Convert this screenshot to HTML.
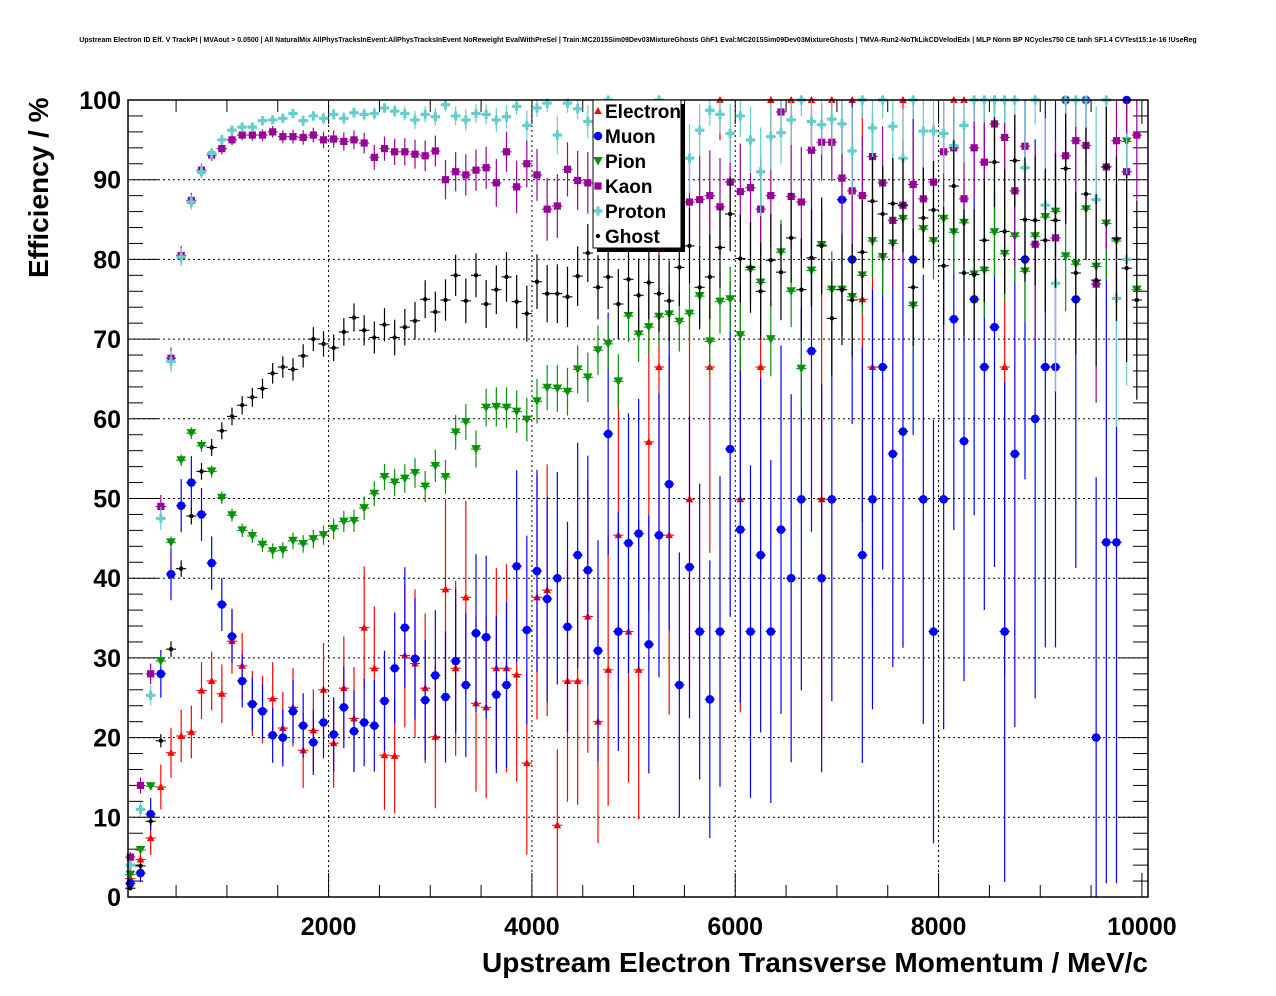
<!DOCTYPE html>
<html><head><meta charset="utf-8"><title>Upstream Electron ID Eff. V TrackPt</title>
<style>
html,body{margin:0;padding:0;background:#fff;}
svg{display:block;font-family:"Liberation Sans",Arial,sans-serif;}
</style></head>
<body>
<svg id="chart" width="1276" height="996" viewBox="0 0 1276 996" xmlns="http://www.w3.org/2000/svg">
<rect x="0" y="0" width="1276" height="996" fill="#fff"/>
<text x="638" y="42" font-size="7" font-weight="bold" text-anchor="middle">Upstream Electron ID Eff. V TrackPt | MVAout &gt; 0.0500 | All NaturalMix AllPhysTracksInEvent:AllPhysTracksInEvent NoReweight EvalWithPreSel | Train:MC2015Sim09Dev03MixtureGhosts GhF1 Eval:MC2015Sim09Dev03MixtureGhosts | TMVA-Run2-NoTkLikCDVelodEdx | MLP Norm BP NCycles750 CE tanh SF1.4 CVTest15:1e-16 !UseReg</text>
<g id="grid"></g>
<g id="axes"></g>
<g id="series"></g>
<rect x="128" y="100" width="1020" height="797" fill="none" stroke="#000" stroke-width="1.5"/>
<g id="legend"></g>
<text transform="translate(48,278) rotate(-90)" font-size="28" font-weight="bold" text-anchor="start">Efficiency / %</text>
<text x="1148" y="972" font-size="28" font-weight="bold" text-anchor="end">Upstream Electron Transverse Momentum / MeV/c</text>
</svg>
<script>
const binCenters = [];
for (let i = 0; i < 100; i++) binCenters.push(50 + 100 * i);
const xTicks = [2000, 4000, 6000, 8000, 10000];
const yTicks = [0, 10, 20, 30, 40, 50, 60, 70, 80, 90, 100];
const binCounts = [1500,1500,1500,1500,1500,1500,1500,1500,1450,1400,1300,1200,1100,1000,900,820,750,680,620,560,500,460,420,380,340,310,280,260,240,220,200,185,170,160,150,140,130,120,112,106,100,95,90,86,82,78,74,70,66,62,58,55,52,49,47,45,43,41,39,37,35,34,33,32,31,30,29,28,27,26,25,25,24,24,23,23,22,22,21,21,20,19,18,17,16,15,15,14,14,13,12,12,11,11,10,10,9,9,8,8];
const electronEff = [2.3,4.7,7.4,13.8,18.1,20.2,20.7,25.9,27.1,25.5,32.1,29.0,24.3,23.5,24.9,21.2,23.8,18.4,20.9,26.0,19.3,26.2,22.4,33.8,28.7,17.8,17.7,30.3,29.3,26.2,20.1,38.6,28.7,37.6,24.3,23.8,28.7,28.7,27.9,16.8,37.6,
 38.5,9.0,27.1,27.1,35.2,22.0,28.5,45.4,33.3,28.5,57.1,66.5,45.4,null,49.9,null,66.5,100,null,49.9,null,66.5,100,null,100,null,100,49.9,100,null,100,75,66.5,null,null,100,null,null,null,null,100,100,null,null,null,66.5,null,null,null,null,null,null,null,null,null,null,null,null,null];
const muonEff = [1.7,3.0,10.4,28.0,40.5,49.1,52.0,48.0,41.9,36.7,32.7,27.1,24.2,23.3,20.3,20.0,23.3,21.5,19.4,21.9,20.4,23.8,20.8,21.9,21.5,24.6,28.7,33.8,29.9,24.7,27.8,25.1,29.6,26.6,33.1,32.6,25.4,26.6,41.5,33.5,40.9,
 37.4,40.0,33.9,42.9,41.0,30.9,58.1,33.3,44.4,45.6,31.7,45.4,51.8,26.6,41.4,33.3,24.8,33.3,56.2,46.1,33.3,42.9,33.3,46.1,40.0,49.9,68.5,40.0,49.9,87.5,80,42.9,49.9,66.5,55.6,58.4,80,49.9,33.3,49.9,72.5,57.2,75,66.5,71.5,33.3,55.6,80,60.0,66.5,66.5,100,75,100,20,44.5,44.5,100,null];
const pionEff = [2.8,5.9,13.9,29.6,44.5,54.8,58.2,56.6,53.4,50.1,47.9,46.0,45.3,44.2,43.4,43.5,44.7,44.3,44.9,45.4,46.2,47.1,47.2,48.8,50.6,52.7,52.0,52.5,53.2,51.5,54.1,52.7,58.3,59.6,56.2,61.4,61.5,61.4,60.9,59.9,62.2,
 63.9,63.8,63.4,66.2,65.2,68.6,69.4,64.7,72.9,70.6,71.5,72.8,73.1,72.2,73.2,75.4,69.7,74.7,75.0,70.5,78.7,77.1,70.0,80.9,76.0,66.3,78.6,81.8,76.2,76.2,75.3,78.0,82.3,80.3,82.0,85.1,74.2,83.8,82.3,85.1,83.4,84.6,78.1,78.6,83.4,80.7,82.9,78.5,82.9,85.3,86.0,80.4,79.4,86.3,79.1,84.5,82.3,94.8,76.2];
const kaonEff = [5,14,28,49,67.6,80.5,87.4,91.2,93.1,93.9,95.0,95.6,95.6,95.6,96.0,95.4,95.4,95.3,95.6,95.0,95.1,94.8,95.0,94.6,92.8,93.9,93.5,93.5,93.2,93.0,93.6,90.0,91.0,90.6,91.2,91.5,89.6,93.5,89.1,92.0,
 90.6,86.3,86.7,91.3,89.9,89.6,88.5,89.0,90.5,88.0,89.5,87.5,88.5,87.0,88.0,87.2,87.5,88.0,86.6,89.7,88.5,89.0,86.3,88.0,98.5,87.9,87.2,93.7,94.7,94.7,90.2,88.6,88.0,92.9,89.6,84.9,86.8,89.4,87.6,89.7,93.5,94.0,87.6,94.0,92.2,97.0,95.3,88.6,94.2,81.9,null,82.7,93.0,94.9,94.3,76.9,91.6,94.9,91.0,95.6];
const protonEff = [4,11,25.3,47.5,67.2,80.3,87.2,91.0,93.3,95.0,96.2,96.6,96.6,97.4,97.5,97.7,98.3,97.4,98.0,97.7,98.2,97.7,98.4,98.2,98.3,99.0,98.6,98.3,97.5,98.2,97.9,99.4,98.0,97.5,98.3,98.2,97.5,97.9,99.2,96.8,99.0,
 99.6,95.6,99.6,98.9,97.3,99,100,98,99,97,99,100,98,99,92.7,96.2,98.7,98.2,95.8,98.0,95.0,91.0,95.4,95.9,97.5,100,97.3,96.9,97.6,97,93.6,100,96.5,100,96.7,92.7,100,96.1,96.1,95.8,94.3,96.8,100,100,100,100,100,91.5,100,86.8,77.0,100,100,100,87.5,100,75.1,80.0,null];
const ghostEff = [1.1,3.9,9.5,19.6,31.1,41.2,47.8,53.4,56.4,58.5,60.3,61.7,62.7,63.8,65.7,66.5,66.2,67.9,70.0,69.4,68.9,70.9,72.7,71.1,70.2,71.8,70.2,71.5,72.3,75.0,73.4,74.9,78.0,74.8,78.0,74.4,76.2,77.8,74.7,73.2,77.2,
 75.7,75.7,75.3,77.9,80.8,76.5,77.8,74.4,77.5,75.5,77.1,75.7,74.8,79,81.7,76.5,77.8,81.5,85.7,80.1,79.0,76.0,79.9,78.4,82.7,76.2,80.2,81.7,72.6,76.2,74.9,80.9,87.3,85.7,87.0,86.8,76.5,85.2,86.2,79.2,89.2,78.3,78.1,82.4,92.2,83.5,92.4,85.0,84.9,82.4,84.9,91.4,78.3,88.2,77.4,91.6,82.6,78.9,74.9];

const NS = "http://www.w3.org/2000/svg";
const X0 = 128, X1 = 1148, Y0 = 897, Y1 = 100;
const XMIN = 27, XMAX = 10060;
function xs(v) { return X0 + (v - XMIN) / (XMAX - XMIN) * (X1 - X0); }
function ys(v) { return Y0 - v / 100 * (Y0 - Y1); }
function mk(tag, attrs, parent) {
  const e = document.createElementNS(NS, tag);
  for (const k in attrs) e.setAttribute(k, attrs[k]);
  parent.appendChild(e);
  return e;
}
const grid = document.getElementById('grid');
const axes = document.getElementById('axes');
xTicks.forEach(t => {
  if (t >= 10000) return;
  const l = mk('line', {x1: xs(t), x2: xs(t), y1: Y1, y2: Y0, stroke: '#000', 'stroke-width': 1, 'stroke-dasharray': '2,3'}, grid);
  
  
});
yTicks.forEach(t => {
  if (t === 0 || t === 100) return;
  const l = mk('line', {x1: X0, x2: X1, y1: ys(t), y2: ys(t), stroke: '#000', 'stroke-width': 1, 'stroke-dasharray': '2,3'}, grid);
  
  
});
for (let v = 0; v <= 100; v += 2) {
  const major = v % 10 === 0;
  const len = major ? 30 : 15;
  const y = ys(v);
  const a = mk('line', {x1: X0, x2: X0 + len, y1: y, y2: y, stroke: '#000', 'stroke-width': 1}, axes);
  
  
  const b = mk('line', {x1: X1, x2: X1 - len, y1: y, y2: y, stroke: '#000', 'stroke-width': 1}, axes);
  
  
}
yTicks.forEach(t => {
  const tx = mk('text', {x: 121, y: ys(t) + 9, 'font-size': 25, 'font-weight': 'bold', 'text-anchor': 'end'}, axes);
  tx.textContent = String(t);
  
  
});
for (let v = 500; v <= 10000; v += 500) {
  const major = v % 2000 === 0;
  const len = major ? 24 : 12;
  const x = xs(v);
  const a = mk('line', {x1: x, x2: x, y1: Y0, y2: Y0 - len, stroke: '#000', 'stroke-width': 1}, axes);
  
  
  const b = mk('line', {x1: x, x2: x, y1: Y1, y2: Y1 + len, stroke: '#000', 'stroke-width': 1}, axes);
  
  
}
xTicks.forEach(t => {
  const tx = mk('text', {x: xs(t), y: 935, 'font-size': 25, 'font-weight': 'bold', 'text-anchor': 'middle'}, axes);
  tx.textContent = String(t);
  
  
});

function drawMarker(parent, kind, color, x, y) {
  let m;
  if (kind === 'tri-up') {
    m = mk('polygon', {points: `${x-3.8},${y+3} ${x+3.8},${y+3} ${x},${y-4}`, fill: color}, parent);
  } else if (kind === 'tri-down') {
    m = mk('polygon', {points: `${x-4.8},${y-4} ${x+4.8},${y-4} ${x},${y+4.5}`, fill: color}, parent);
  } else if (kind === 'circle') {
    m = mk('circle', {cx: x, cy: y, r: 4.3, fill: color}, parent);
  } else if (kind === 'square') {
    m = mk('rect', {x: x - 3.6, y: y - 3.6, width: 7.2, height: 7.2, fill: color}, parent);
  } else if (kind === 'cross') {
    m = mk('path', {d: `M${x-4.5},${y-1.6}h3v-3h3v3h3v3.2h-3v3h-3v-3h-3z`, fill: color}, parent);
  } else {
    m = mk('circle', {cx: x, cy: y, r: 2.2, fill: color}, parent);
  }
  return m;
}

const seriesGroup = document.getElementById('series');
function drawSeries(name, vals, color, kind, factor) {
  const g = mk('g', {}, seriesGroup);
  
  
  vals.forEach((v, i) => {
    if (v === null || v === undefined) return;
    const p = v / 100;
    const n = binCounts[i] * factor;
    const err = 100 * Math.sqrt(Math.max(p * (1 - p), 0.01) / n);
    const lo = Math.max(0, v - err), hi = Math.min(100, v + err);
    const x = xs(binCenters[i]), y = ys(v);
    const vl = mk('line', {x1: x, x2: x, y1: ys(lo), y2: ys(hi), stroke: color, 'stroke-width': 1.2}, g);
    
    
    const hl = mk('line', {x1: xs(binCenters[i] - 50), x2: xs(binCenters[i] + 50), y1: y, y2: y, stroke: color, 'stroke-width': 1.1}, g);
    
    
    const m = drawMarker(g, kind, color, x, y);
    
    
  });
}
drawSeries('electron', electronEff, '#ff0000', 'tri-up', 0.1);
drawSeries('muon', muonEff, '#0000ff', 'circle', 0.15);
drawSeries('pion', pionEff, '#079207', 'tri-down', 3);
drawSeries('kaon', kaonEff, '#990099', 'square', 0.8);
drawSeries('proton', protonEff, '#66cccc', 'cross', 0.8);
drawSeries('ghost', ghostEff, '#000000', 'dot', 1.5);

const legend = document.getElementById('legend');
const shadow = mk('rect', {x: 597, y: 104, width: 88, height: 148, fill: '#000'}, legend);


const lbox = mk('rect', {x: 593, y: 100, width: 88, height: 148, fill: '#fff', stroke: '#000', 'stroke-width': 1}, legend);


const legendLabels = ['Electron', 'Muon', 'Pion', 'Kaon', 'Proton', 'Ghost'];
const legendColors = ['#ff0000', '#0000ff', '#079207', '#990099', '#66cccc', '#000000'];
const legendKinds = ['tri-up', 'circle', 'tri-down', 'square', 'cross', 'dot'];
legendLabels.forEach((lab, k) => {
  const y = 111 + 25 * k;
  const m = drawMarker(legend, legendKinds[k], legendColors[k], 598, y);
  
  
  const t = mk('text', {x: 605, y: y + 7, 'font-size': 19, 'font-weight': 'bold'}, legend);
  t.textContent = lab;
  
  
});
</script>
</body></html>
